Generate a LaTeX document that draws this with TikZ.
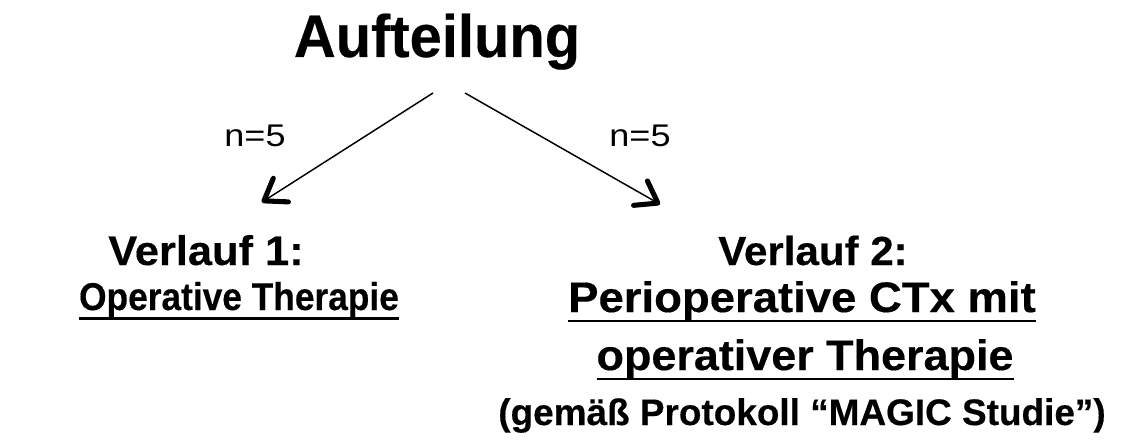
\documentclass[tikz,border=0pt]{standalone}
\usepackage{fontspec}
\setmainfont{Liberation Sans}[BoldFeatures={FakeBold=0.35}]
\usetikzlibrary{arrows.meta}
\newcommand{\myul}[1]{\setbox0\hbox{#1}\rlap{\rule[-\dimexpr\dp0+1.2pt\relax]{\wd0}{2.1pt}}\box0}
\tikzset{
  lbl/.style={inner sep=0pt, anchor=base},
  conn/.style={line width=1.1pt, -{Straight Barb[length=15pt,width=21pt,line width=3.8pt,round]}, shorten >=2.5pt}
}
\begin{document}
\begin{tikzpicture}[x=0.75pt,y=-0.75pt]
\useasboundingbox (0,0) rectangle (1124,442);
\node[lbl,font=\fontsize{45}{50}\selectfont\bfseries] (title) at (437,57) {\scalebox{0.965}[1]{Aufteilung}};
\coordinate (s1) at (433,93);
\coordinate (s2) at (465,93);
\coordinate (e1) at (259,204);
\coordinate (e2) at (663,206);
\draw[conn] (s1) -- (e1);
\draw[conn] (s2) -- (e2);
\node[lbl,font=\fontsize{23.5}{28}\selectfont] (n1) at (255,147) {\scalebox{1.15}[1]{n=5}};
\node[lbl,font=\fontsize{23.5}{28}\selectfont] (n2) at (640,147) {\scalebox{1.15}[1]{n=5}};
\node[lbl,font=\fontsize{31}{36}\selectfont\bfseries] (v1) at (206,265) {\scalebox{1.05}[1]{Verlauf 1:}};
\node[lbl,font=\fontsize{29}{36}\selectfont\bfseries] (o1) at (239,310) {\scalebox{0.913}[1]{\myul{Operative Therapie}}};
\node[lbl,font=\fontsize{30.5}{36}\selectfont\bfseries] (v2) at (813,265) {\scalebox{1.035}[1]{Verlauf 2:}};
\node[lbl,font=\fontsize{32}{36}\selectfont\bfseries] (p2) at (802,312) {\scalebox{1.066}[1]{\myul{Perioperative CTx mit}}};
\node[lbl,font=\fontsize{32}{36}\selectfont\bfseries] (o2) at (805,370) {\scalebox{1.053}[1]{\myul{operativer Therapie}}};
\node[lbl,font=\fontsize{27.7}{34}\selectfont\bfseries] (g2) at (802,425) {(gemäß Protokoll “MAGIC Studie”)};
\end{tikzpicture}
\end{document}
